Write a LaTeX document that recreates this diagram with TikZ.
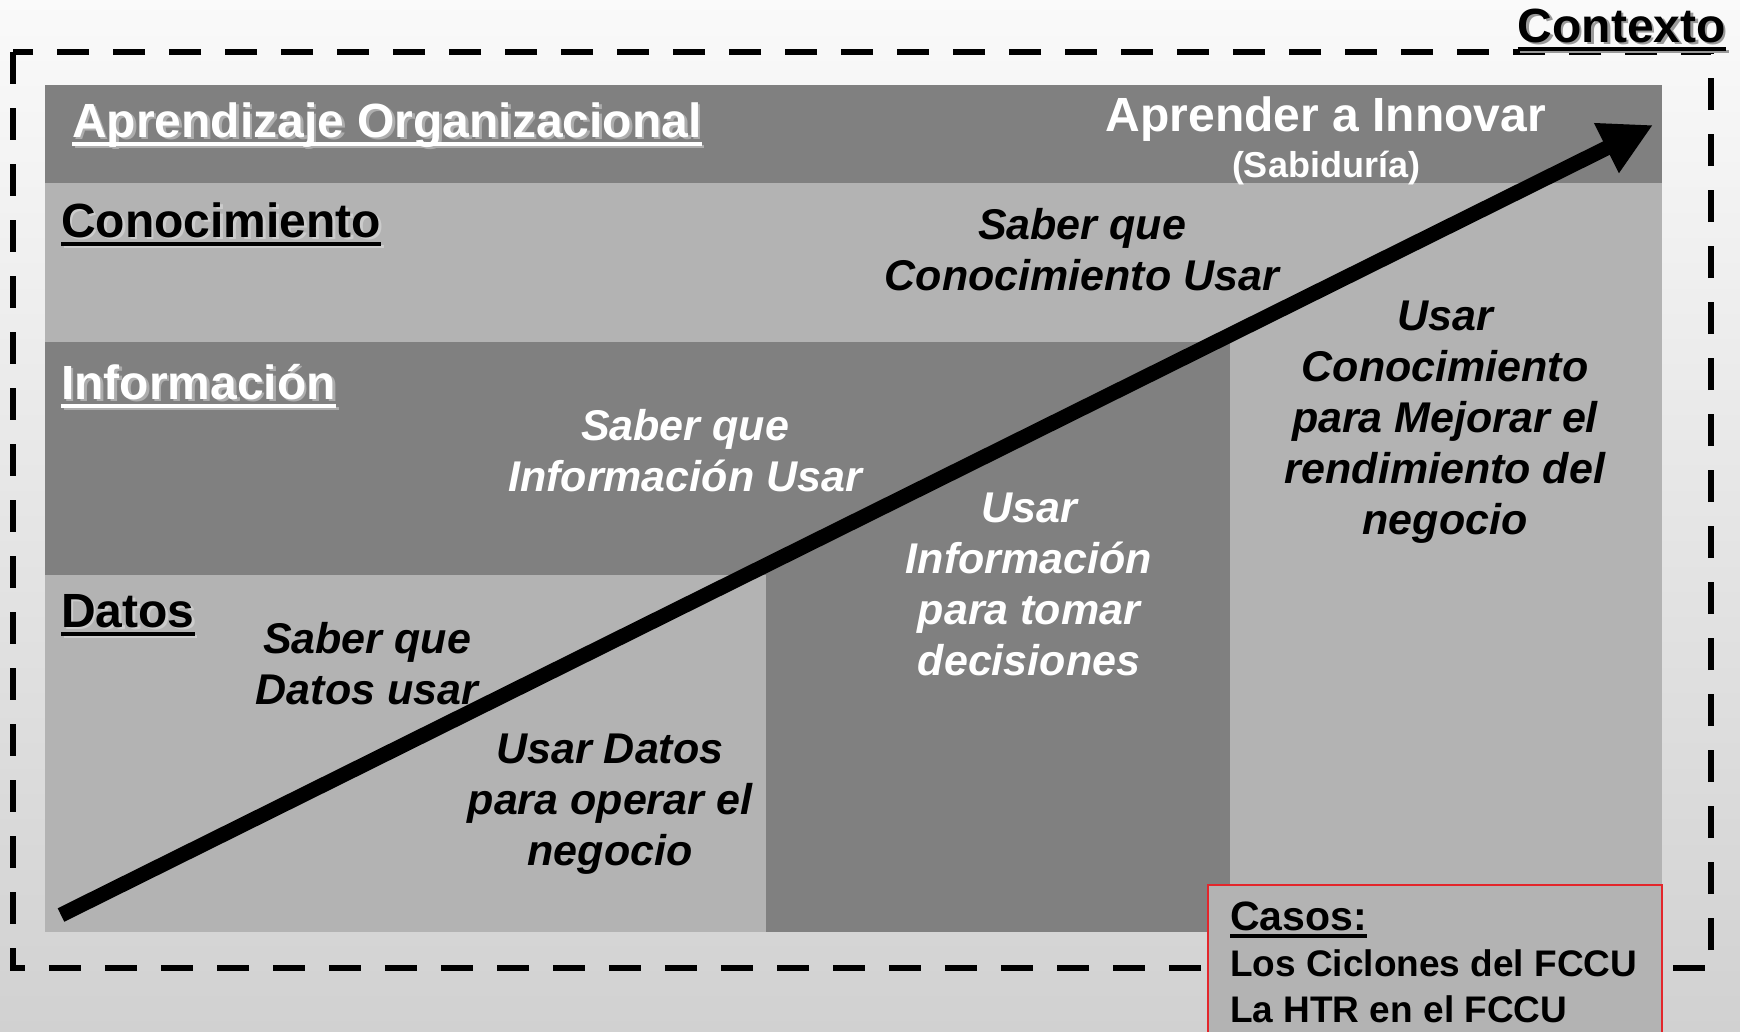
\documentclass[tikz,border=0pt]{standalone}
\usepackage{fontspec}
\setmainfont{Liberation Sans}
\usetikzlibrary{arrows.meta}

\definecolor{darkband}{HTML}{808080}
\definecolor{lightband}{HTML}{B3B3B3}
\definecolor{casered}{HTML}{E3262B}

% underlined heading with a drop shadow
\newcommand{\ulhead}[6]{%
  \node[#1, text=#5, xshift=2.5pt, yshift=-2.5pt] (#2s) at #3 {#6};
  \draw[#5, line width=3.5pt] ([yshift=-7pt]#2s.base west) -- ([yshift=-7pt]#2s.base east);
  \node[#1, text=#4] (#2) at #3 {#6};
  \draw[#4, line width=3.5pt] ([yshift=-7pt]#2.base west) -- ([yshift=-7pt]#2.base east);
}

\begin{document}
\begin{tikzpicture}[x=1pt,y=-1pt]

      \tikzset{head/.style={font=\fontsize{48}{56}\selectfont\bfseries, inner sep=0pt, anchor=base west},
               body/.style={font=\fontsize{43}{51}\selectfont\bfseries\itshape, align=center, inner sep=0pt},
               trend/.style={line width=15pt, -{Triangle[length=52pt,width=52pt]}}}
% Fondo
	\shade[top color=white!98!black, bottom color=white!82!black] (0,0) rectangle (1740,1031);
	\useasboundingbox (0,0) rectangle (1740,1031);

% Contexto
	\draw[line width=5.5pt, dash pattern=on 32pt off 24pt] (13,52) rectangle (1711,968);

% Bandas
	%Aprendizaje
		\fill[darkband] (45,85) rectangle (1662,183);
	%Conocimiento
		\fill[lightband] (45,183) rectangle (1662,342);
		\fill[lightband] (1230,342) rectangle (1662,932);
	%Informacion
		\fill[darkband] (45,342) rectangle (1230,575);
		\fill[darkband] (766,575) rectangle (1230,932);
	%Datos
		\fill[lightband] (45,575) rectangle (766,932);

% Titulos
	\ulhead{head}{aprend}{(72,137)}{white}{white!68!black}{Aprendizaje Organizacional}
	\ulhead{head}{conoc}{(61,237)}{black}{white!80!black}{Conocimiento}
	\ulhead{head}{inform}{(61,399)}{white}{white!68!black}{Información}
	\ulhead{head}{datos}{(61,627)}{black}{white!80!black}{Datos}
	\ulhead{head, anchor=base east}{contexto}{(1726,42)}{black}{white!60!black}{Contexto}

	\node[head, anchor=base, text=white] (innovar) at (1326,131) {Aprender a Innovar};
	\node[head, anchor=base, text=white, font=\fontsize{36}{42}\selectfont\bfseries] (sabid) at (1326,177) {(Sabiduría)};

% Textos
	\node[body] (sabercon) at (1082,250) {Saber que\\Conocimiento Usar};
	\node[body, text=white] (saberinf) at (685,451) {Saber que\\Información Usar};
	\node[body] (saberdat) at (367,664) {Saber que\\Datos usar};
	\node[body] (usardat) at (610,804) {Usar Datos\\para operar el\\negocio};
	\node[body, text=white] (usarinf) at (1029,584) {Usar\\Información\\para tomar\\decisiones};
	\node[body] (usarcon) at (1445,422) {Usar\\Conocimiento\\para Mejorar el\\rendimiento del\\negocio};

% Flecha
	\coordinate (start) at (61,915);
	\coordinate (tip) at (1653,125);
	\draw[trend] (start) -- (tip);

% Casos
	\filldraw[fill=lightband, draw=casered, line width=2pt] (1208,885) rectangle (1662,1040);
	\node[head, font=\fontsize{41}{48}\selectfont\bfseries] (casos) at (1230,930) {Casos:};
	\draw[line width=3.2pt] ([yshift=-6pt]casos.base west) -- ([yshift=-6pt]casos.base east);
	\node[head, font=\fontsize{37}{44}\selectfont\bfseries] (ciclones) at (1230,976) {Los Ciclones del FCCU};
	\node[head, font=\fontsize{37}{44}\selectfont\bfseries] (htr) at (1230,1022) {La HTR en el FCCU};

\end{tikzpicture}
\end{document}
